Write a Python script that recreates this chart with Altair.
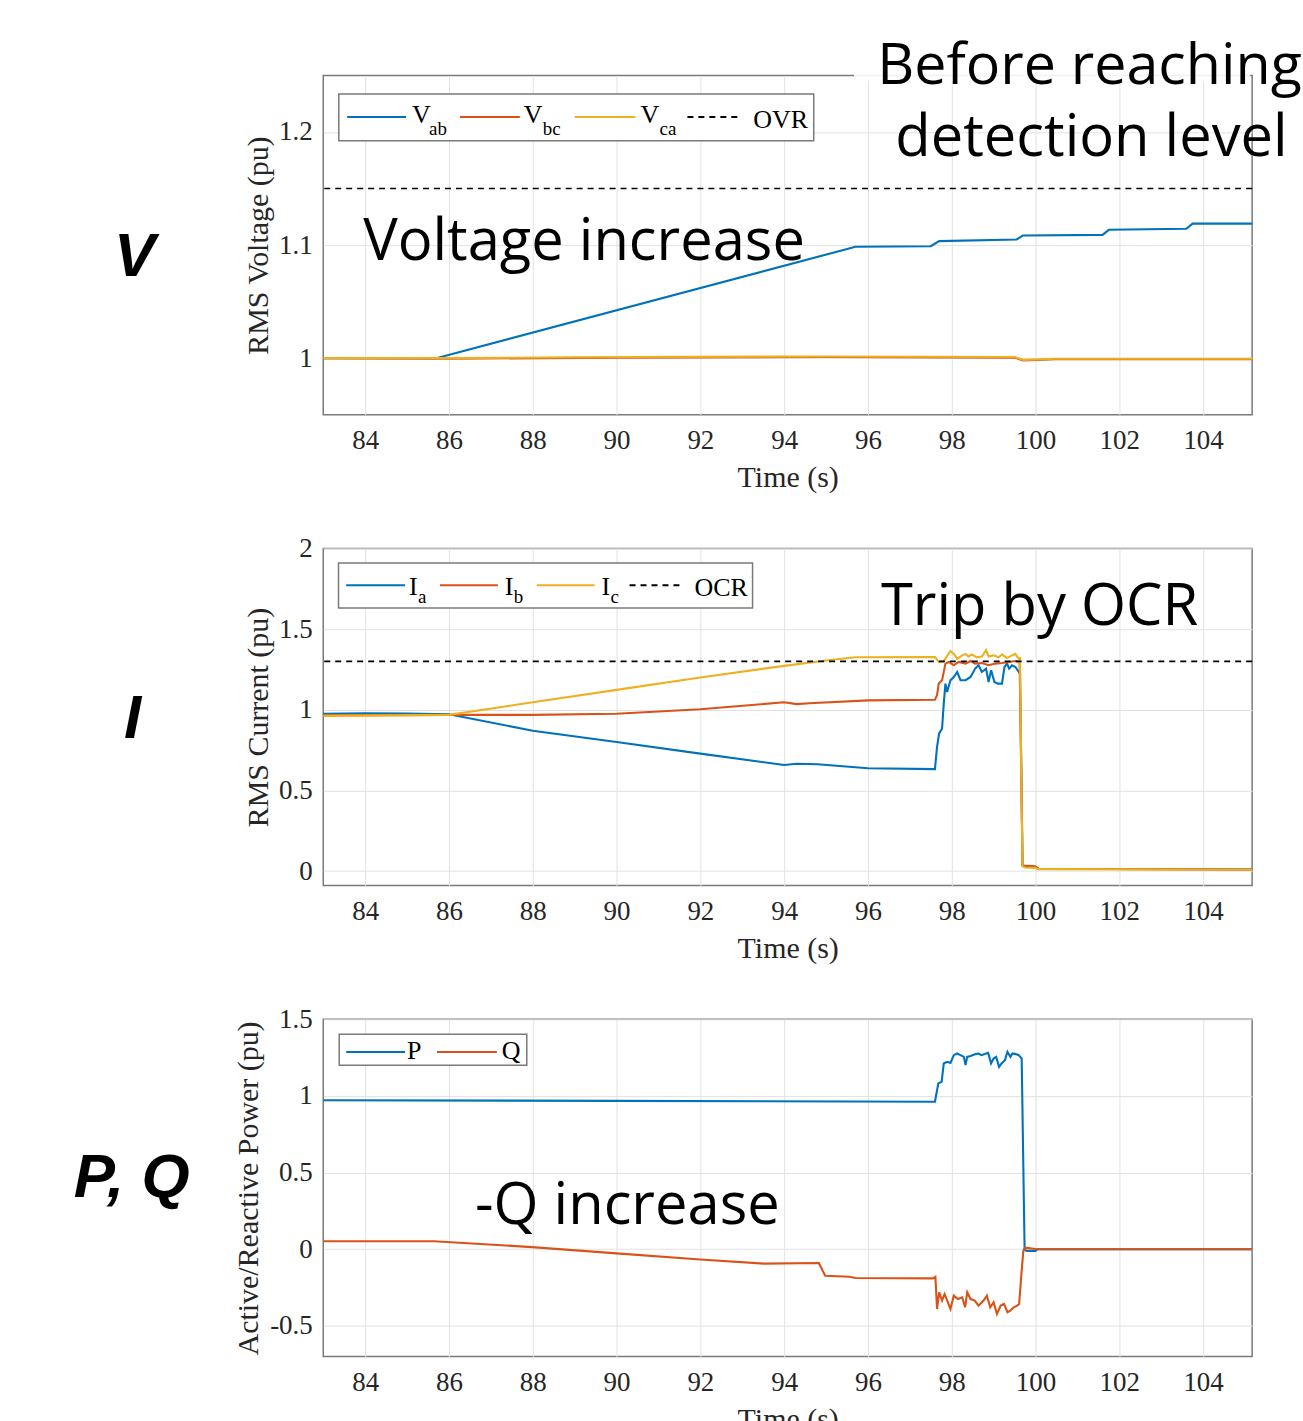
import altair as alt
import pandas as pd

# ---------------- data ----------------
X_TICKS = [84, 86, 88, 90, 92, 94, 96, 98, 100, 102, 104]
X_DOMAIN = [83, 105.17]

# Panel 1 : RMS voltage
V_TICKS = [1.0, 1.1, 1.2]
V_DOMAIN = [0.95, 1.25]
T_VAB = [83.0, 85.7, 95.55, 95.7, 97.5, 97.7, 99.55, 99.7, 101.6, 101.75, 103.6, 103.75, 105.2]
VAB = [1.0, 1.0, 1.097, 1.0985, 1.099, 1.1035, 1.105, 1.1085, 1.109, 1.1135, 1.1145, 1.119, 1.119]
T_VBC = [83.0, 86.0, 90.0, 95.0, 99.5, 99.7, 100.5, 105.2]
VBC = [1.0, 0.9995, 1.0005, 1.001, 1.0005, 0.998, 0.999, 0.999]
VCA = [1.0, 1.0, 1.001, 1.0015, 1.001, 0.9985, 0.9995, 0.9995]
OVR_LEVEL = 1.15

# Panel 2 : RMS current
I_TICKS = [0, 0.5, 1, 1.5, 2]
I_DOMAIN = [-0.09, 2.0]
T_IA = [83, 84, 85, 86, 88, 90, 92, 94, 94.3, 94.8, 96, 97.6,
        97.65, 97.7, 97.77, 97.81, 97.85, 97.89, 97.97, 98.05, 98.13, 98.21, 98.33, 98.45,
        98.56, 98.64, 98.72, 98.82, 98.88, 98.94, 99.02, 99.1, 99.2, 99.26, 99.32, 99.37,
        99.44, 99.52, 99.6, 99.63, 99.66, 99.69, 99.75, 99.99, 100.07, 105.2]
IA = [0.975, 0.978, 0.976, 0.972, 0.87, 0.80, 0.728, 0.658, 0.665, 0.662, 0.637, 0.632,
      0.77, 0.853, 0.884, 1.038, 1.162, 1.11, 1.183, 1.203, 1.234, 1.183, 1.183, 1.203,
      1.255, 1.276, 1.234, 1.255, 1.172, 1.245, 1.172, 1.162, 1.162, 1.265, 1.286, 1.255,
      1.276, 1.265, 1.234, 1.224, 0.667, 0.037, 0.03, 0.027, 0.015, 0.01]
T_IB = [83, 86, 88, 90, 92, 94, 94.3, 94.6, 96, 97.6,
        97.65, 97.69, 97.77, 97.85, 97.93, 98.05, 98.17, 98.33, 98.45, 98.56, 98.72, 98.88,
        99.04, 99.2, 99.36, 99.52, 99.62, 99.66, 99.69, 99.99, 100.07, 105.2]
IB = [0.965, 0.968, 0.968, 0.975, 1.003, 1.046, 1.035, 1.04, 1.058, 1.062,
      1.09, 1.162, 1.183, 1.286, 1.296, 1.276, 1.296, 1.286, 1.302, 1.286, 1.29, 1.276,
      1.286, 1.29, 1.296, 1.302, 1.296, 0.6, 0.035, 0.03, 0.015, 0.01]
T_IC = [83, 86, 88, 90, 92, 94, 95, 95.7, 97.6,
        97.69, 97.8, 97.9, 97.97, 98.05, 98.13, 98.25, 98.33, 98.4, 98.48, 98.6, 98.72,
        98.82, 98.88, 99.0, 99.12, 99.2, 99.32, 99.44, 99.52, 99.6, 99.63, 99.66, 99.69,
        99.75, 99.99, 100.07, 105.2]
IC = [0.962, 0.968, 1.046, 1.123, 1.2, 1.272, 1.305, 1.325, 1.327,
      1.296, 1.298, 1.337, 1.364, 1.346, 1.316, 1.337, 1.346, 1.33, 1.342, 1.325, 1.33,
      1.37, 1.33, 1.337, 1.325, 1.342, 1.321, 1.337, 1.346, 1.316, 1.32, 0.6, 0.03,
      0.022, 0.02, 0.012, 0.008]
OCR_LEVEL = 1.3

# Panel 3 : active / reactive power
PQ_TICKS = [-0.5, 0, 0.5, 1, 1.5]
PQ_DOMAIN = [-0.7, 1.5]
T_P = [83, 90, 97.6, 97.68, 97.76, 97.81, 97.89, 97.97, 98.05, 98.13, 98.21, 98.29, 98.33,
       98.37, 98.45, 98.57, 98.64, 98.71, 98.79, 98.87, 98.94, 99.0, 99.06, 99.13, 99.19,
       99.27, 99.33, 99.4, 99.45, 99.53, 99.6, 99.67, 99.74, 99.8, 100.0, 100.05, 105.2]
P = [0.972, 0.968, 0.962, 1.082, 1.093, 1.212, 1.223, 1.216, 1.266, 1.277, 1.266, 1.255, 1.201,
     1.255, 1.26, 1.273, 1.277, 1.266, 1.273, 1.281, 1.212, 1.244, 1.255, 1.19, 1.212,
     1.233, 1.288, 1.255, 1.277, 1.273, 1.266, 1.244, -0.005, -0.011, -0.011, 0.0, 0.0]
T_Q = [83, 85.64, 87.98, 90.0, 92.0, 93.52, 94.83, 94.98, 95.56, 95.7, 97.55,
       97.61, 97.65, 97.7, 97.77, 97.83, 97.91, 97.97, 98.05, 98.15, 98.25, 98.32, 98.37,
       98.45, 98.55, 98.64, 98.76, 98.84, 98.92, 99.0, 99.08, 99.17, 99.25, 99.33, 99.4,
       99.48, 99.56, 99.61, 99.66, 99.71, 99.75, 100.05, 105.2]
Q = [0.052, 0.052, 0.014, -0.027, -0.067, -0.094, -0.09, -0.173, -0.18, -0.188, -0.19,
     -0.18, -0.39, -0.281, -0.335, -0.292, -0.346, -0.39, -0.303, -0.325, -0.314, -0.379, -0.281,
     -0.325, -0.335, -0.368, -0.335, -0.303, -0.379, -0.346, -0.422, -0.368, -0.357, -0.411, -0.4,
     -0.379, -0.368, -0.357, -0.173, -0.011, 0.01, 0.0, 0.0]

# ---------------- styling ----------------
W = 931
H1, H2, H3 = 340, 338, 338
SERIF = "Liberation Serif"
SANS = "Open Sans"
BOLD = "Liberation Sans"
BLUE, ORANGE, YELLOW = "#0072BD", "#D95319", "#EDB120"
TXT = "#262626"
GRID = "#e2e2e2"
ONE = pd.DataFrame({"k": [0]})
ANN = 58

xscale = alt.Scale(domain=X_DOMAIN, nice=False, zero=False)


def x_axis():
    return alt.Axis(values=X_TICKS, title="Time (s)", grid=True, gridColor=GRID, domain=False,
                    ticks=False, labelFont=SERIF, labelFontSize=27, labelColor=TXT, labelPadding=13,
                    labelFlush=False, titleFont=SERIF, titleFontSize=30, titleFontWeight="normal",
                    titleColor=TXT, titleY=63, titleBaseline="middle")


def y_axis(ticks, title, h, tx):
    return alt.Axis(values=ticks, title=title, grid=True, gridColor=GRID, domain=False, ticks=False,
                    labelFont=SERIF, labelFontSize=27, labelColor=TXT, labelPadding=11,
                    labelFlush=False, labelExpr="datum.value + ''",
                    titleFont=SERIF, titleFontSize=30, titleFontWeight="normal", titleColor=TXT,
                    titleX=tx, titleY=h / 2, titleBaseline="middle", titleAngle=270)


def line(t, v, color, yscale, yaxis):
    df = pd.DataFrame({"t": t, "v": v})
    return alt.Chart(df).mark_line(color=color, strokeWidth=2.1, clip=True).encode(
        x=alt.X("t:Q", scale=xscale, axis=x_axis()),
        y=alt.Y("v:Q", scale=yscale, axis=yaxis),
    )


def level(val, yscale, yaxis):
    df = pd.DataFrame({"v": [val]})
    return alt.Chart(df).mark_rule(color="black", strokeDash=[6, 5], strokeWidth=1.6).encode(
        y=alt.Y("v:Q", scale=yscale, axis=yaxis))


def seg(x1, x2, y, color, dash=None):
    kw = dict(color=color, strokeWidth=2)
    if dash:
        kw["strokeDash"] = dash
    return alt.Chart(ONE).mark_rule(**kw).encode(x=alt.value(x1), x2=alt.value(x2), y=alt.value(y))


def box(x1, x2, y1, y2, stroke="#7a7a7a", opacity=1.0, sw=1.5):
    return alt.Chart(ONE).mark_rect(fill="white", stroke=stroke, strokeWidth=sw, opacity=opacity).encode(
        x=alt.value(x1), x2=alt.value(x2), y=alt.value(y1), y2=alt.value(y2))


def txt(s, x, y, size, font=SERIF, align="left", baseline="alphabetic", **kw):
    return alt.Chart(ONE).mark_text(text=s, font=font, fontSize=size, align=align,
                                    baseline=baseline, color=kw.pop("color", "black"), **kw).encode(
        x=alt.value(x), y=alt.value(y))


def side_label(s, x, y, align="center"):
    return txt(s, x, y, 62, font=BOLD, align=align, baseline="middle",
               fontStyle="italic", fontWeight="bold")


# ---------------- panel 1 ----------------
ys1 = alt.Scale(domain=V_DOMAIN, nice=False, zero=False)
ya1 = y_axis(V_TICKS, "RMS Voltage (pu)", H1, -65)
p1 = alt.layer(
    line(T_VAB, VAB, BLUE, ys1, ya1),
    line(T_VBC, VBC, ORANGE, ys1, ya1),
    line(T_VBC, VCA, YELLOW, ys1, ya1),
    level(OVR_LEVEL, ys1, ya1),
    box(15.6, 491.6, 18.5, 65.5),
    seg(24, 83, 41.5, BLUE), seg(137, 197, 41.5, ORANGE), seg(252, 313, 41.5, YELLOW),
    seg(365, 420, 41.5, "black", [6, 5]),
    txt("V", 89, 47.5, 26), txt("ab", 106, 59.5, 19),
    txt("V", 201, 47.5, 26), txt("bc", 220, 59.5, 19),
    txt("V", 318, 47.5, 26), txt("ca", 337, 59.5, 19),
    txt("OVR", 431, 52.5, 26),
    txt("Voltage increase", 40, 168, ANN, font=SANS, baseline="middle"),
    box(532, 929, -61, 6, stroke="white", opacity=0.9, sw=0),
    txt("Before reaching", 768, -8, 57.5, font=SANS, align="center", baseline="middle"),
    txt("detection level", 770, 64, ANN, font=SANS, align="center", baseline="middle"),
    side_label("V", -189, 182),
).properties(width=W, height=H1)

# ---------------- panel 2 ----------------
ys2 = alt.Scale(domain=I_DOMAIN, nice=False, zero=False)
ya2 = y_axis(I_TICKS, "RMS Current (pu)", H2, -65)
p2 = alt.layer(
    line(T_IA, IA, BLUE, ys2, ya2),
    line(T_IB, IB, ORANGE, ys2, ya2),
    line(T_IC, IC, YELLOW, ys2, ya2),
    level(OCR_LEVEL, ys2, ya2),
    box(15.3, 430.3, 14.7, 59.7),
    seg(23, 82, 37, BLUE), seg(117, 175, 37, ORANGE), seg(214, 272, 37, YELLOW),
    seg(307, 360, 37, "black", [6, 5]),
    txt("I", 86, 47, 26), txt("a", 95, 55, 19),
    txt("I", 182, 47, 26), txt("b", 191, 55, 19),
    txt("I", 279, 47, 26), txt("c", 288, 55, 19),
    txt("OCR", 372, 47.5, 26),
    txt("Trip by OCR", 559, 60, ANN, font=SANS, baseline="middle"),
    side_label("I", -191, 171),
).properties(width=W, height=H2)

# ---------------- panel 3 ----------------
ys3 = alt.Scale(domain=PQ_DOMAIN, nice=False, zero=False)
ya3 = y_axis(PQ_TICKS, "Active/Reactive Power (pu)", H3, -75)
p3 = alt.layer(
    line(T_P, P, BLUE, ys3, ya3),
    line(T_Q, Q, ORANGE, ys3, ya3),
    box(16, 204, 15, 46),
    seg(23, 82, 32.7, BLUE), seg(114, 174, 32.7, ORANGE),
    txt("P", 84, 40, 26), txt("Q", 179, 40, 26),
    txt("-Q increase", 152, 188, ANN, font=SANS, baseline="middle"),
    side_label("P, Q", -250, 159, align="left"),
).properties(width=W, height=H3)

chart = alt.vconcat(p1, p2, p3, spacing=134, bounds="flush").properties(
    padding={"left": 73, "top": 12, "right": 0, "bottom": 0},
    background="white",
).configure_view(stroke="#7a7a7a", strokeWidth=1.5)

chart.save("out.html", embed_options={"renderer": "svg", "actions": False})
